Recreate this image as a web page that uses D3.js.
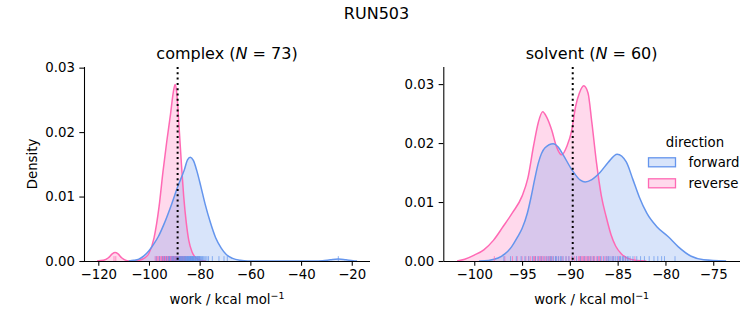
<!DOCTYPE html>
<html>
<head>
<meta charset="utf-8">
<script src="https://cdn.jsdelivr.net/npm/d3@7"></script>
<style>
  html, body { margin: 0; padding: 0; background: #fff; }
  svg { display: block; font-family: "DejaVu Sans", sans-serif; }
</style>
</head>
<body>
<svg id="chart" width="753" height="325"></svg>
<script>
// ---------------- DATA ----------------
const figureTitle = "RUN503";
const panelNames = ["complex", "solvent"];
const panelN = [73, 60];
const directions = ["forward", "reverse"];
const colors = { forward: "#6495ED", reverse: "#FF69B4" };

// KDE density curves: [work, density]
const complexForward = [[-108,0],[-106,0.0001],[-104,0.0003],[-102,0.0008],[-100,0.0016],[-98,0.0027],[-96.3,0.0038],[-94,0.0058],[-91,0.0089],[-88.5,0.0117],[-86.1,0.0141],[-84.8,0.0157],[-83.7,0.0161],[-82.5,0.0156],[-81.2,0.0141],[-79.5,0.0115],[-77.9,0.0089],[-75.8,0.006],[-73.7,0.0036],[-71.5,0.002],[-69.5,0.001],[-67,0.0004],[-64,0.0001],[-61,0],[-35,0],[-31.5,0.00005],[-28.5,0.00018],[-25.3,0.0003],[-22.3,0.00018],[-19.5,0.00005],[-17.9,0]];
const complexReverse = [[-120.5,0],[-118,0.0001],[-116,0.0005],[-114.5,0.0011],[-113.4,0.0013],[-112.2,0.0011],[-110.8,0.0005],[-109,0.0001],[-107,0],[-104,0.0001],[-102,0.0004],[-100,0.0012],[-98,0.0036],[-96,0.0085],[-94.5,0.0138],[-93,0.0185],[-91.5,0.0228],[-90.4,0.0262],[-89.7,0.0274],[-89.1,0.0263],[-88.7,0.0244],[-88,0.02],[-87.2,0.015],[-86.3,0.01],[-85.3,0.006],[-84.3,0.0032],[-83,0.0014],[-81.5,0.0005],[-79.5,0.0001],[-77.5,0]];
const solventForward = [[-99.5,0],[-98.5,0.0001],[-97.5,0.0005],[-96.8,0.0012],[-96.1,0.0024],[-95.5,0.004],[-95,0.0055],[-94.45,0.0081],[-94.05,0.0109],[-93.7,0.0137],[-93.3,0.0166],[-92.6,0.0192],[-91.75,0.0199],[-91.2,0.0193],[-90.7,0.018],[-89.8,0.0155],[-88.9,0.0137],[-88.4,0.0134],[-87.7,0.0138],[-86.85,0.015],[-86,0.0167],[-85.05,0.0181],[-84.1,0.0168],[-83.4,0.0138],[-82.75,0.0109],[-81.95,0.0081],[-80.9,0.0058],[-79.7,0.0041],[-78.65,0.0024],[-77.3,0.0008],[-76,0.0002],[-73.65,0]];
const solventReverse = [[-101.8,0],[-101,0.0003],[-100,0.001],[-99,0.0019],[-98,0.0035],[-97,0.0058],[-96,0.0082],[-95,0.011],[-94.4,0.014],[-93.8,0.0195],[-93.3,0.0235],[-92.85,0.0253],[-92.4,0.0243],[-91.9,0.0222],[-91.4,0.0194],[-90.85,0.018],[-90.3,0.0195],[-89.8,0.0222],[-89.4,0.0262],[-89,0.0285],[-88.55,0.0297],[-88.1,0.0285],[-87.7,0.0235],[-87.2,0.0165],[-86.7,0.011],[-86.2,0.0075],[-85.7,0.0045],[-85.2,0.0025],[-84.6,0.0012],[-84,0.0005],[-83,0.0001],[-82,0]];

// Rug observations (estimated from the tick marks)
const complexForwardRug = [-97.2,-95.8,-94.6,-93.9,-93.1,-92.4,-92.0,-91.8,-91.2,-90.7,-90.4,-90.1,-89.6,-89.2,-88.8,-88.3,-88.0,-87.9,-87.6,-87.4,-87.2,-86.9,-86.7,-86.5,-86.2,-85.9,-85.8,-85.6,-85.3,-85.1,-85.0,-84.8,-84.6,-84.5,-84.3,-84.1,-84.0,-83.8,-83.6,-83.5,-83.3,-83.1,-83.0,-82.9,-82.8,-82.6,-82.4,-82.3,-82.1,-81.8,-81.6,-81.5,-81.3,-81.0,-80.8,-80.7,-80.5,-80.2,-80.0,-79.9,-79.6,-79.3,-78.9,-78.6,-78.2,-77.6,-77.1,-76.5,-75.0,-72.4,-70.4,-69.1,-25.3];
const complexReverseRug = [-113.8,-113.1,-97.6,-97.0,-96.8,-96.5,-96.1,-95.9,-95.7,-95.3,-95.0,-94.9,-94.7,-94.4,-94.2,-94.1,-93.8,-93.6,-93.5,-93.3,-93.0,-92.9,-92.8,-92.5,-92.3,-92.2,-92.1,-91.8,-91.6,-91.5,-91.4,-91.2,-91.0,-90.9,-90.8,-90.6,-90.4,-90.3,-90.2,-90.0,-89.9,-89.8,-89.7,-89.5,-89.4,-89.3,-89.2,-89.0,-88.9,-88.8,-88.7,-88.5,-88.3,-88.2,-88.1,-87.9,-87.7,-87.6,-87.4,-87.2,-87.0,-86.9,-86.6,-86.4,-86.3,-86.0,-85.8,-85.6,-85.1,-84.5,-83.6,-82.2,-80.3];
const solventForwardRug = [-96.9,-96.2,-95.6,-95.1,-94.7,-94.3,-93.9,-93.6,-93.3,-93.0,-92.7,-92.4,-92.2,-92.0,-91.9,-91.7,-91.5,-91.4,-91.2,-91.0,-90.9,-90.7,-90.4,-90.1,-89.7,-89.3,-88.9,-88.5,-88.1,-87.8,-87.5,-87.1,-86.8,-86.5,-86.2,-86.0,-85.9,-85.7,-85.5,-85.4,-85.2,-85.0,-84.8,-84.7,-84.5,-84.4,-84.2,-84.0,-83.9,-83.7,-83.4,-83.0,-82.6,-82.2,-81.7,-81.2,-80.8,-80.4,-80.1,-79.0];
const solventReverseRug = [-97.9,-96.8,-96.0,-95.5,-95.0,-94.6,-94.3,-94.1,-93.8,-93.7,-93.6,-93.4,-93.2,-93.1,-93.0,-92.9,-92.8,-92.6,-92.5,-92.4,-92.2,-92.1,-92.0,-91.8,-91.5,-91.2,-90.8,-90.4,-90.1,-89.8,-89.5,-89.3,-89.1,-89.0,-88.9,-88.8,-88.7,-88.6,-88.5,-88.4,-88.3,-88.2,-88.1,-88.0,-87.9,-87.8,-87.6,-87.5,-87.4,-87.2,-87.0,-86.9,-86.7,-86.4,-86.2,-86.0,-85.5,-84.9,-84.2,-83.2];

// Vertical dotted reference lines (work value)
const referenceLines = [-88.7, -89.7];

// Axis limits and ticks
const xDomains = [[-125.64, -12.8], [-103.24, -72.2]];
const yDomains = [[0, 0.0301], [0, 0.0329]];
const xTicks = [[-120, -100, -80, -60, -40, -20], [-100, -95, -90, -85, -80, -75]];
const yTicks = [[0, 0.01, 0.02, 0.03], [0, 0.01, 0.02, 0.03]];

// ---------------- LAYOUT ----------------
const panels = [
  { left: 84, right: 370, top: 67, bottom: 261,
    curves: { forward: complexForward, reverse: complexReverse },
    rugs: { forward: complexForwardRug, reverse: complexReverseRug } },
  { left: 443.3, right: 740, top: 67, bottom: 261,
    curves: { forward: solventForward, reverse: solventReverse },
    rugs: { forward: solventForwardRug, reverse: solventReverseRug } }
];

const svg = d3.select("#chart");
const fmtMinus = s => s.replace("-", "\u2212");

svg.append("text")
  .attr("x", 376.5).attr("y", 19)
  .attr("text-anchor", "middle")
  .attr("font-size", 16)
  .attr("fill", "#000")
  .text(figureTitle);

panels.forEach((p, i) => {
  const x = d3.scaleLinear().domain(xDomains[i]).range([p.left, p.right]);
  const y = d3.scaleLinear().domain(yDomains[i]).range([p.bottom, p.top]);
  const g = svg.append("g");

  const area = d3.area().x(d => x(d[0])).y0(y(0)).y1(d => y(d[1])).curve(d3.curveMonotoneX);
  const line = d3.line().x(d => x(d[0])).y(d => y(d[1])).curve(d3.curveMonotoneX);

  const clipId = "clip" + i;
  svg.append("clipPath").attr("id", clipId).append("rect")
    .attr("x", p.left).attr("y", p.top).attr("width", p.right - p.left).attr("height", p.bottom - p.top);
  const plot = g.append("g").attr("clip-path", `url(#${clipId})`);

  // seaborn draws hue levels in reverse order
  ["reverse", "forward"].forEach(dir => {
    plot.append("path").datum(p.curves[dir])
      .attr("d", area)
      .attr("fill", colors[dir]).attr("fill-opacity", 0.25).attr("stroke", "none");
  });
  ["reverse", "forward"].forEach(dir => {
    plot.append("path").datum(p.curves[dir])
      .attr("d", line)
      .attr("fill", "none").attr("stroke", colors[dir]).attr("stroke-width", 1.5);
  });

  // rugs
  const rugH = (p.bottom - p.top) * 0.025;
  ["reverse", "forward"].forEach(dir => {
    plot.append("g").selectAll("line").data(p.rugs[dir]).join("line")
      .attr("x1", d => x(d)).attr("x2", d => x(d))
      .attr("y1", p.bottom).attr("y2", p.bottom - rugH)
      .attr("stroke", colors[dir]).attr("stroke-width", 1).attr("stroke-opacity", 0.7);
  });

  // dotted reference line
  plot.append("line")
    .attr("x1", x(referenceLines[i])).attr("x2", x(referenceLines[i]))
    .attr("y1", p.top).attr("y2", p.bottom)
    .attr("stroke", "#000").attr("stroke-width", 2)
    .attr("stroke-dasharray", "2,3.3");

  // axes
  const xAxis = d3.axisBottom(x).tickValues(xTicks[i]).tickSize(4.67).tickPadding(4)
    .tickFormat(d => fmtMinus(String(d)));
  const gx = g.append("g").attr("transform", `translate(0,${p.bottom})`).call(xAxis);
  const yAxis = d3.axisLeft(y).tickValues(yTicks[i]).tickSize(4.67).tickPadding(4.5)
    .tickFormat(d3.format(".2f"));
  const gy = g.append("g").attr("transform", `translate(${p.left},0)`).call(yAxis);
  [gx, gy].forEach(ax => {
    ax.select(".domain").attr("stroke", "#000").attr("stroke-width", 1.07);
    ax.selectAll(".tick line").attr("stroke", "#000").attr("stroke-width", 1.07);
    ax.selectAll(".tick text").attr("font-size", 13.3).attr("fill", "#000")
      .attr("font-family", "DejaVu Sans");
  });
  gx.select(".domain").attr("d", `M${p.left},0.5H${p.right}`);
  gy.select(".domain").attr("d", `M0.5,${p.bottom}V${p.top}`);

  // x label
  const xl = g.append("text")
    .attr("x", (p.left + p.right) / 2).attr("y", 304)
    .attr("text-anchor", "middle").attr("font-size", 13.3).attr("fill", "#000");
  xl.append("tspan").text("work / kcal mol");
  xl.append("tspan").attr("font-size", 9.5).attr("dy", -5.5).text("\u22121");

  // title
  const t = g.append("text")
    .attr("x", (p.left + p.right) / 2).attr("y", 59)
    .attr("text-anchor", "middle").attr("font-size", 16).attr("fill", "#000");
  t.append("tspan").text(panelNames[i] + " (");
  t.append("tspan").attr("font-style", "italic").text("N");
  t.append("tspan").text(" = " + panelN[i] + ")");
});

// y label
svg.append("text")
  .attr("transform", "translate(36.5,164) rotate(-90)")
  .attr("text-anchor", "middle").attr("font-size", 13.3).attr("fill", "#000")
  .text("Density");

// legend
const lg = svg.append("g");
lg.append("text").attr("x", 695).attr("y", 146.5).attr("text-anchor", "middle")
  .attr("font-size", 13.3).attr("fill", "#000").text("direction");
directions.forEach((dir, k) => {
  const yy = 157.8 + k * 21;
  lg.append("rect").attr("x", 648.5).attr("y", yy).attr("width", 27).attr("height", 9)
    .attr("fill", colors[dir]).attr("fill-opacity", 0.25)
    .attr("stroke", colors[dir]).attr("stroke-width", 1.3);
  lg.append("text").attr("x", 688.5).attr("y", yy + 9.2)
    .attr("font-size", 13.3).attr("fill", "#000").text(dir);
});
</script>
</body>
</html>
